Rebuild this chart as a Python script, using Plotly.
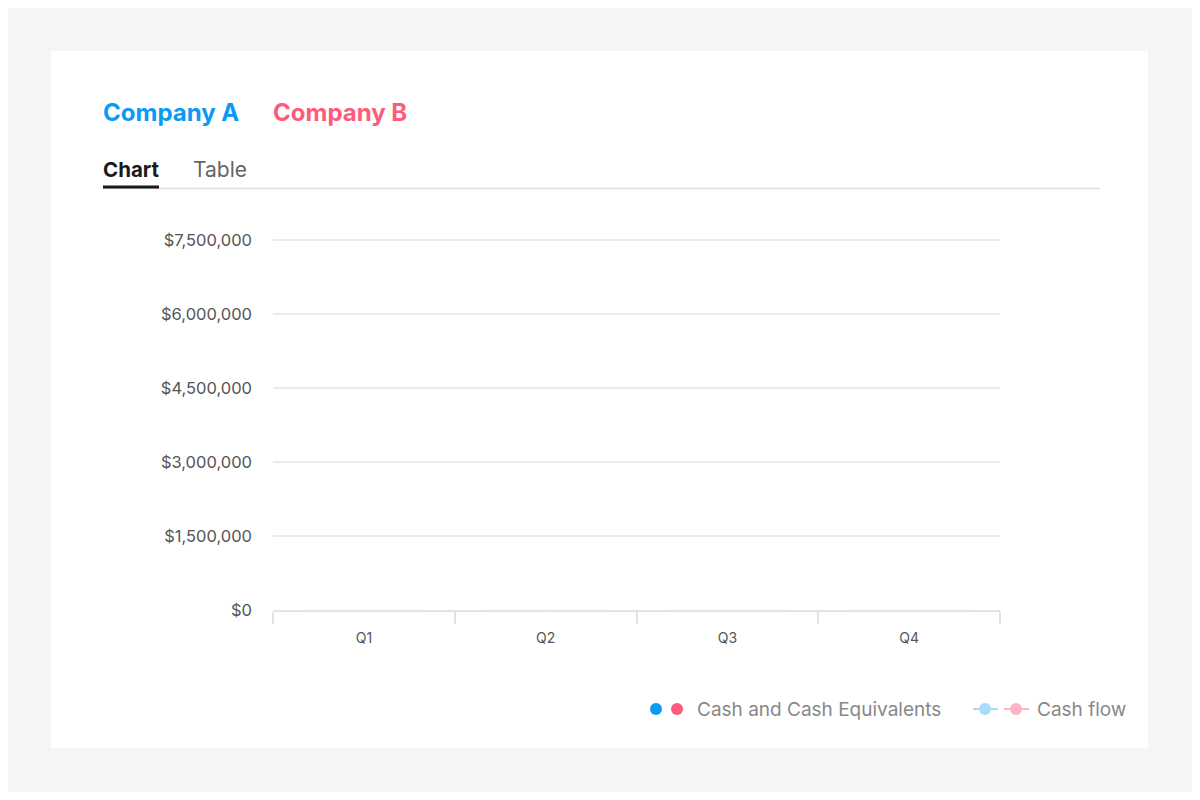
import plotly.graph_objects as go

# ============================================================
# Data (everything sits at ~0)
# ============================================================

quarters = ["Q1", "Q2", "Q3", "Q4"]
cash_a = [12000, 12000, 12000, 12000]
cash_b = [12000, 12000, 12000, 12000]
flow_a = [0, 0, 0, 0]
flow_b = [0, 0, 0, 0]

y_ticks = [0, 1500000, 3000000, 4500000, 6000000, 7500000]
y_labels = ["$0", "$1,500,000", "$3,000,000", "$4,500,000", "$6,000,000", "$7,500,000"]

BLUE = "#0a9af3"
PINK = "#ff5a7d"
LIGHT_BLUE = "#a6dcfc"
LIGHT_PINK = "#ffb3c6"
FONT = "Inter, Lato, sans-serif"

# page body has an 8px margin, so the figure is drawn 8px in from the corner
OFF = 8
W, H = 1184, 784


def px(x):
    return (x - OFF) / W


def py(y):
    return 1 - (y - OFF) / H


fig = go.Figure()

fig.add_trace(go.Bar(x=quarters, y=cash_a, name="Company A", marker_color=BLUE,
                     opacity=0.08, showlegend=False))
fig.add_trace(go.Bar(x=quarters, y=cash_b, name="Company B", marker_color=PINK,
                     opacity=0.12, showlegend=False))
fig.add_trace(go.Scatter(x=quarters, y=flow_a, mode="lines", line=dict(color=LIGHT_BLUE, width=1),
                         opacity=0.0, showlegend=False))
fig.add_trace(go.Scatter(x=quarters, y=flow_b, mode="lines", line=dict(color=LIGHT_PINK, width=1),
                         opacity=0.0, showlegend=False))

shapes = [
    # white card
    dict(type="rect", xref="paper", yref="paper", x0=px(51), x1=px(1148), y0=py(748), y1=py(51),
         fillcolor="white", line=dict(width=0), layer="below"),
    # tab underline
    dict(type="line", xref="paper", yref="paper", x0=px(103), x1=px(1100), y0=py(188.5), y1=py(188.5),
         line=dict(color="#dddddd", width=1.5)),
    dict(type="line", xref="paper", yref="paper", x0=px(103), x1=px(159), y0=py(187), y1=py(187),
         line=dict(color="#1a1a1a", width=3)),
    # legend: cash and cash equivalents
    dict(type="circle", xref="paper", yref="paper", x0=px(650), x1=px(662), y0=py(715), y1=py(703),
         fillcolor=BLUE, line=dict(width=0)),
    dict(type="circle", xref="paper", yref="paper", x0=px(671), x1=px(683), y0=py(715), y1=py(703),
         fillcolor=PINK, line=dict(width=0)),
    # legend: cash flow
    dict(type="line", xref="paper", yref="paper", x0=px(973), x1=px(998), y0=py(709), y1=py(709),
         line=dict(color=LIGHT_BLUE, width=2, dash="dash")),
    dict(type="circle", xref="paper", yref="paper", x0=px(979), x1=px(991), y0=py(715), y1=py(703),
         fillcolor=LIGHT_BLUE, line=dict(width=0)),
    dict(type="line", xref="paper", yref="paper", x0=px(1004), x1=px(1029), y0=py(709), y1=py(709),
         line=dict(color=LIGHT_PINK, width=2, dash="dash")),
    dict(type="circle", xref="paper", yref="paper", x0=px(1010), x1=px(1022), y0=py(715), y1=py(703),
         fillcolor=LIGHT_PINK, line=dict(width=0)),
]

annotations = [
    dict(text="<b>Company A</b>", x=px(101), y=py(112), font=dict(size=24, color=BLUE)),
    dict(text="<b>Company B</b>", x=px(271), y=py(112), font=dict(size=24, color=PINK)),
    dict(text="<b>Chart</b>", x=px(101), y=py(170), font=dict(size=20.5, color="#1a1a1a")),
    dict(text="Table", x=px(191), y=py(170), font=dict(size=21, color="#666666")),
    dict(text="Cash and Cash Equivalents", x=px(695), y=py(709), font=dict(size=19, color="#888888")),
    dict(text="Cash flow", x=px(1035), y=py(709), font=dict(size=19, color="#888888")),
]
for a in annotations:
    a.update(xref="paper", yref="paper", xanchor="left", yanchor="middle", showarrow=False)

fig.update_layout(
    width=W,
    height=H,
    margin=dict(l=0, r=0, t=0, b=0),
    paper_bgcolor="#f5f5f5",
    plot_bgcolor="white",
    font=dict(family=FONT, color="#555555"),
    barmode="group",
    bargap=0.34,
    bargroupgap=0,
    showlegend=False,
    shapes=shapes,
    annotations=annotations,
    xaxis=dict(
        domain=[px(273), px(1000)],
        showgrid=False,
        showline=True,
        linecolor="#e3e3e3",
        linewidth=1.5,
        ticks="outside",
        tickson="boundaries",
        ticklen=12,
        tickcolor="#e3e3e3",
        tickwidth=1.5,
        ticklabelstandoff=14,
        tickfont=dict(size=14, color="#555555"),
        automargin=False,
    ),
    yaxis=dict(
        domain=[py(610), py(236)],
        range=[0, 7500000 * 374 / 370],
        tickvals=y_ticks,
        ticktext=y_labels,
        showgrid=True,
        gridcolor="#ececec",
        gridwidth=1.5,
        zeroline=False,
        ticks="",
        ticklabelstandoff=20,
        tickfont=dict(size=16.5, color="#555555"),
        automargin=False,
    ),
)

fig.write_html("out.html")
